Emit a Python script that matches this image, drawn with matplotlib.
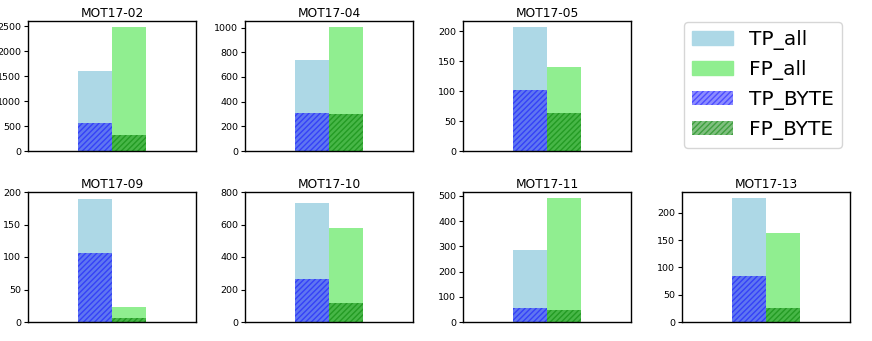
import matplotlib.pyplot as plt
import matplotlib.patches as mpatches

# Data
seqs = ['MOT17-02', 'MOT17-04', 'MOT17-05', 'MOT17-09', 'MOT17-10', 'MOT17-11', 'MOT17-13']
tp_all = [1610, 740, 207, 189, 735, 285, 227]
fp_all = [2480, 1003, 140, 23, 580, 491, 163]
tp_byte = [570, 305, 102, 106, 265, 57, 85]
fp_byte = [320, 300, 64, 6, 120, 48, 25]
ylim_top = {'MOT17-09': 200, 'MOT17-10': 800}

fig = plt.figure(figsize=(8.72, 3.41), dpi=100)

# axes positions in pixels: left edges per column, top/bottom per row
col_left = [28, 245, 463, 682]
row_top = [21, 192]
ax_w, ax_h = 168, 130
slots = [(0, 0), (0, 1), (0, 2), (1, 0), (1, 1), (1, 2), (1, 3)]

w = 0.2
for i, name in enumerate(seqs):
    r, c = slots[i]
    ax = fig.add_axes([col_left[c] / 872, 1 - (row_top[r] + ax_h) / 341,
                       ax_w / 872, ax_h / 341])
    ax.bar(-w / 2, tp_all[i], width=w, color='lightblue')
    ax.bar(w / 2, fp_all[i], width=w, color='lightgreen')
    ax.bar(-w / 2, tp_byte[i], width=w, color='blue', alpha=0.45, hatch='//////', edgecolor='blue', linewidth=0)
    ax.bar(w / 2, fp_byte[i], width=w, color='green', alpha=0.5, hatch='//////', edgecolor='green', linewidth=0)
    ax.set_xlim(-0.5, 0.5)
    if name in ylim_top:
        ax.set_ylim(0, ylim_top[name])
    ax.set_xticks([])
    ax.tick_params(axis='y', labelsize=6.8, length=3, pad=2)
    ax.set_title(name, fontsize=8.8, pad=3)
    for s in ax.spines.values():
        s.set_linewidth(1.0)

handles = [
    mpatches.Patch(color='lightblue', label='TP_all'),
    mpatches.Patch(color='lightgreen', label='FP_all'),
    mpatches.Patch(facecolor='blue', alpha=0.45, hatch='//////', edgecolor='blue', linewidth=0, label='TP_BYTE'),
    mpatches.Patch(facecolor='green', alpha=0.5, hatch='//////', edgecolor='green', linewidth=0, label='FP_BYTE'),
]
fig.legend(handles=handles, loc='center', bbox_to_anchor=(763 / 872, 1 - 85 / 341),
           fontsize=14.5, labelspacing=0.5, handletextpad=0.8)

fig.savefig('out.png', dpi=100)
